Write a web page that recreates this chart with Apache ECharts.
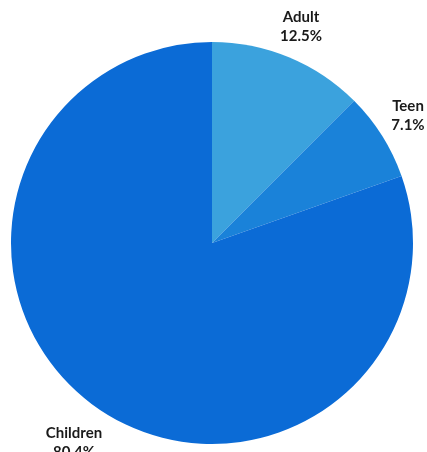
<!DOCTYPE html>
<html>
<head>
<meta charset="utf-8">
<script src="https://cdn.jsdelivr.net/npm/echarts@6/dist/echarts.min.js"></script>
<style>
  html, body { margin: 0; padding: 0; background: #fff; }
  #chart { width: 427px; height: 452px; }
</style>
</head>
<body>
<div id="chart"></div>
<script>
// age groups, share of total (%)
const categories = ['Adult', 'Teen', 'Children'];
const shares = [12.5, 7.1, 80.4];

const colors = ['#3ba2dd', '#1a82d9', '#0b6bd6'];
// where each label sits (px, centre of first line)
const labelSpots = [[301, 18], [408, 107], [74, 434]];

const chart = echarts.init(document.getElementById('chart'));

const labelStyle = {
  fill: '#1a1a1a',
  font: 'bold 15px Lato',
  lineHeight: 19,
  align: 'center',
  verticalAlign: 'top'
};

chart.setOption({
  animation: false,
  color: colors,
  graphic: categories.map((c, i) => ({
    type: 'text',
    x: labelSpots[i][0],
    y: labelSpots[i][1] - 10,
    z: 10,
    style: Object.assign({ text: c + '\n' + shares[i].toFixed(1) + '%' }, labelStyle)
  })),
  series: [{
    type: 'pie',
    center: [212, 243],
    radius: 201,
    startAngle: 90,
    clockwise: true,
    data: categories.map((c, i) => ({ name: c, value: shares[i] })),
    itemStyle: { borderWidth: 0 },
    label: { show: false },
    labelLine: { show: false },
    emphasis: { disabled: true }
  }]
});
</script>
</body>
</html>
